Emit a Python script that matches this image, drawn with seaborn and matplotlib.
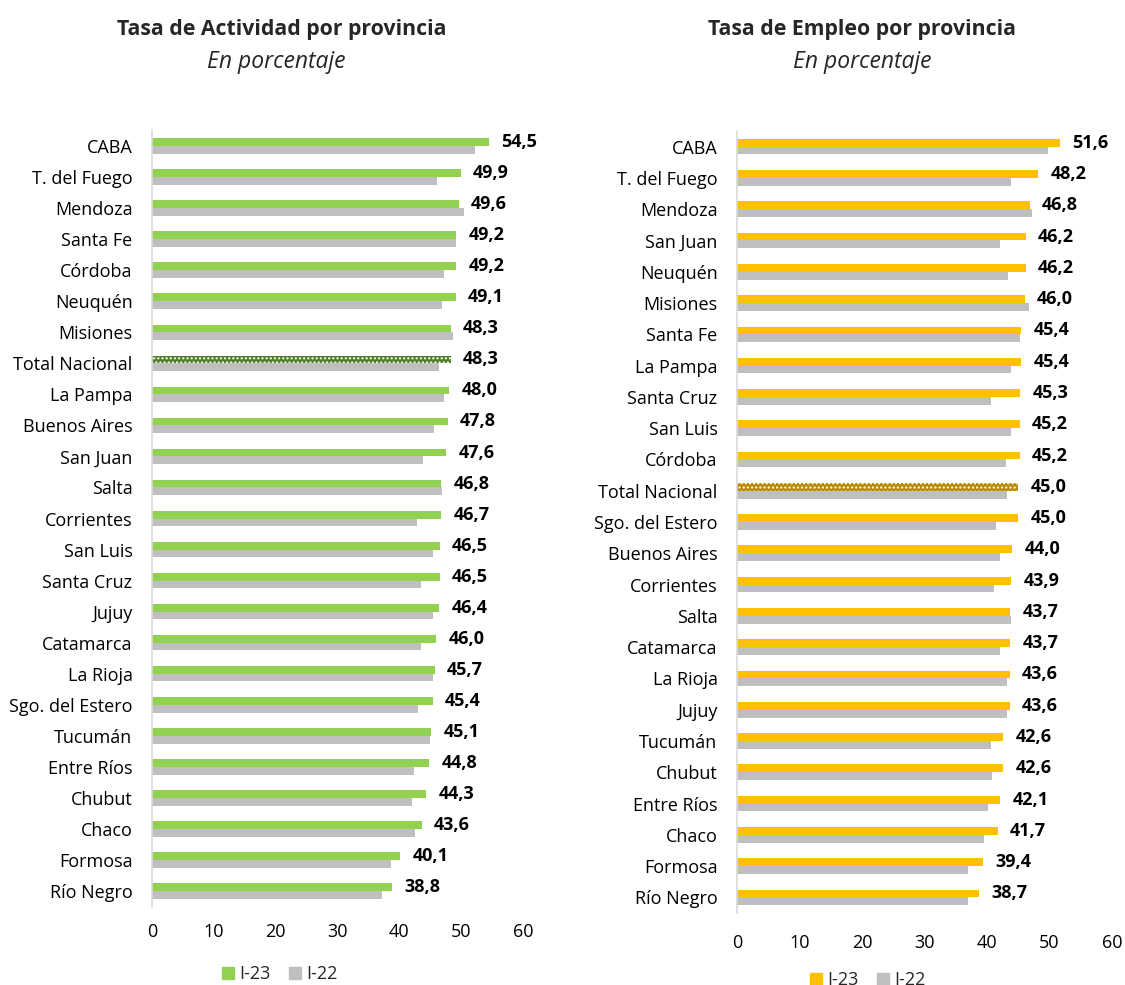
import matplotlib
matplotlib.use("Agg")
import matplotlib.pyplot as plt
import matplotlib.patches as mpatches
import seaborn as sns
import pandas as pd

# ---------------- data ----------------
act_prov = ["CABA", "T. del Fuego", "Mendoza", "Santa Fe", "Córdoba", "Neuquén",
            "Misiones", "Total Nacional", "La Pampa", "Buenos Aires", "San Juan",
            "Salta", "Corrientes", "San Luis", "Santa Cruz", "Jujuy", "Catamarca",
            "La Rioja", "Sgo. del Estero", "Tucumán", "Entre Ríos", "Chubut",
            "Chaco", "Formosa", "Río Negro"]
act_i23 = [54.5, 49.9, 49.6, 49.2, 49.2, 49.1, 48.3, 48.3, 48.0, 47.8, 47.6, 46.8,
           46.7, 46.5, 46.5, 46.4, 46.0, 45.7, 45.4, 45.1, 44.8, 44.3, 43.6, 40.1, 38.8]
act_i22 = [52.3, 46.1, 50.5, 49.1, 47.3, 46.9, 48.7, 46.4, 47.3, 45.6, 43.8, 46.9,
           42.9, 45.4, 43.5, 45.4, 43.5, 45.5, 43.0, 45.0, 42.4, 42.0, 42.5, 38.7, 37.2]

emp_prov = ["CABA", "T. del Fuego", "Mendoza", "San Juan", "Neuquén", "Misiones",
            "Santa Fe", "La Pampa", "Santa Cruz", "San Luis", "Córdoba",
            "Total Nacional", "Sgo. del Estero", "Buenos Aires", "Corrientes",
            "Salta", "Catamarca", "La Rioja", "Jujuy", "Tucumán", "Chubut",
            "Entre Ríos", "Chaco", "Formosa", "Río Negro"]
emp_i23 = [51.6, 48.2, 46.8, 46.2, 46.2, 46.0, 45.4, 45.4, 45.3, 45.2, 45.2, 45.0,
           45.0, 44.0, 43.9, 43.7, 43.7, 43.6, 43.6, 42.6, 42.6, 42.1, 41.7, 39.4, 38.7]
emp_i22 = [49.8, 43.9, 47.2, 42.0, 43.4, 46.7, 45.3, 43.9, 40.7, 43.9, 43.0, 43.2,
           41.4, 42.0, 41.1, 43.8, 42.0, 43.2, 43.2, 40.6, 40.8, 40.1, 39.5, 37.0, 37.0]

periods = ["I-23", "I-22"]
x_ticks = [0, 10, 20, 30, 40, 50, 60]

titles = ["Tasa de Actividad por provincia", "Tasa de Empleo por provincia"]
subtitle = "En porcentaje"

# ---------------- style ----------------
sns.set_theme(style="white")
plt.rcParams["font.family"] = ["Open Sans", "DejaVu Sans"]
plt.rcParams["hatch.linewidth"] = 1.0

GREY = "#BFBFBF"
GREEN = "#92D050"
YELLOW = "#FFC000"
DARK_GREEN = "#4F7F2A"
DARK_YELLOW = "#B88A00"

fig = plt.figure(figsize=(11.25, 9.85), dpi=100)

W, H = 1125, 985
def ax_rect(x0, x1, ytop, ybot):
    return [x0 / W, 1 - ybot / H, (x1 - x0) / W, (ybot - ytop) / H]

ax1 = fig.add_axes(ax_rect(152, 523, 130.5, 906.5))
ax2 = fig.add_axes(ax_rect(737, 1112, 131, 913))


def draw(ax, provs, v23, v22, color, dark, xpad):
    df = pd.DataFrame({
        "prov": provs * 2,
        "periodo": [periods[0]] * len(provs) + [periods[1]] * len(provs),
        "valor": list(v23) + list(v22),
    })
    sns.barplot(data=df, y="prov", x="valor", hue="periodo", hue_order=periods,
                order=provs, palette=[color, GREY], orient="h", width=0.5,
                ax=ax, legend=False, saturation=1, linewidth=0)
    # hatched "Total Nacional"
    idx = provs.index("Total Nacional")
    bar = ax.containers[0][idx]
    bar.set_facecolor(dark)
    bar.set_edgecolor("white")
    bar.set_hatch("....")
    bar.set_linewidth(0)
    labels = [f"{v:.1f}".replace(".", ",") for v in v23]
    ax.bar_label(ax.containers[0], labels=labels, padding=9, fontsize=13,
                 fontweight="bold", color="black")
    ax.set_xlim(0, 60)
    ax.set_xticks(x_ticks)
    ax.set_ylim(len(provs) - 0.5, -0.5)
    ax.set_xlabel("")
    ax.set_ylabel("")
    for s in ["top", "right", "bottom"]:
        ax.spines[s].set_visible(False)
    ax.spines["left"].set_color("#D9D9D9")
    ax.spines["left"].set_linewidth(1.2)
    ax.tick_params(axis="y", length=0, pad=14, labelsize=13, labelcolor="black")
    ax.tick_params(axis="x", length=0, pad=xpad, labelsize=13, labelcolor="black")
    ax.grid(False)


draw(ax1, act_prov, act_i23, act_i22, GREEN, DARK_GREEN, 12)
draw(ax2, emp_prov, emp_i23, emp_i22, YELLOW, DARK_YELLOW, 15)

# titles
fig.text(282 / W, 1 - 30 / H, titles[0], ha="center", va="center",
         fontsize=15.3, fontweight="bold")
fig.text(276 / W, 1 - 62 / H, subtitle, ha="center", va="center",
         fontsize=16.5, fontstyle="italic")
fig.text(862 / W, 1 - 30 / H, titles[1], ha="center", va="center",
         fontsize=15.3, fontweight="bold")
fig.text(862 / W, 1 - 62 / H, subtitle, ha="center", va="center",
         fontsize=16.5, fontstyle="italic")

# legends
def add_legend(color, xc, yc):
    handles = [mpatches.Patch(color=color, label=periods[0]),
               mpatches.Patch(color=GREY, label=periods[1])]
    fig.legend(handles=handles, loc="center", bbox_to_anchor=(xc / W, 1 - yc / H),
               ncol=2, frameon=False, fontsize=13, handlelength=0.65,
               handleheight=0.65, handletextpad=0.3, columnspacing=1.0)

add_legend(GREEN, 280, 974)
add_legend(YELLOW, 868, 980)

fig.savefig("out.png", dpi=100)
